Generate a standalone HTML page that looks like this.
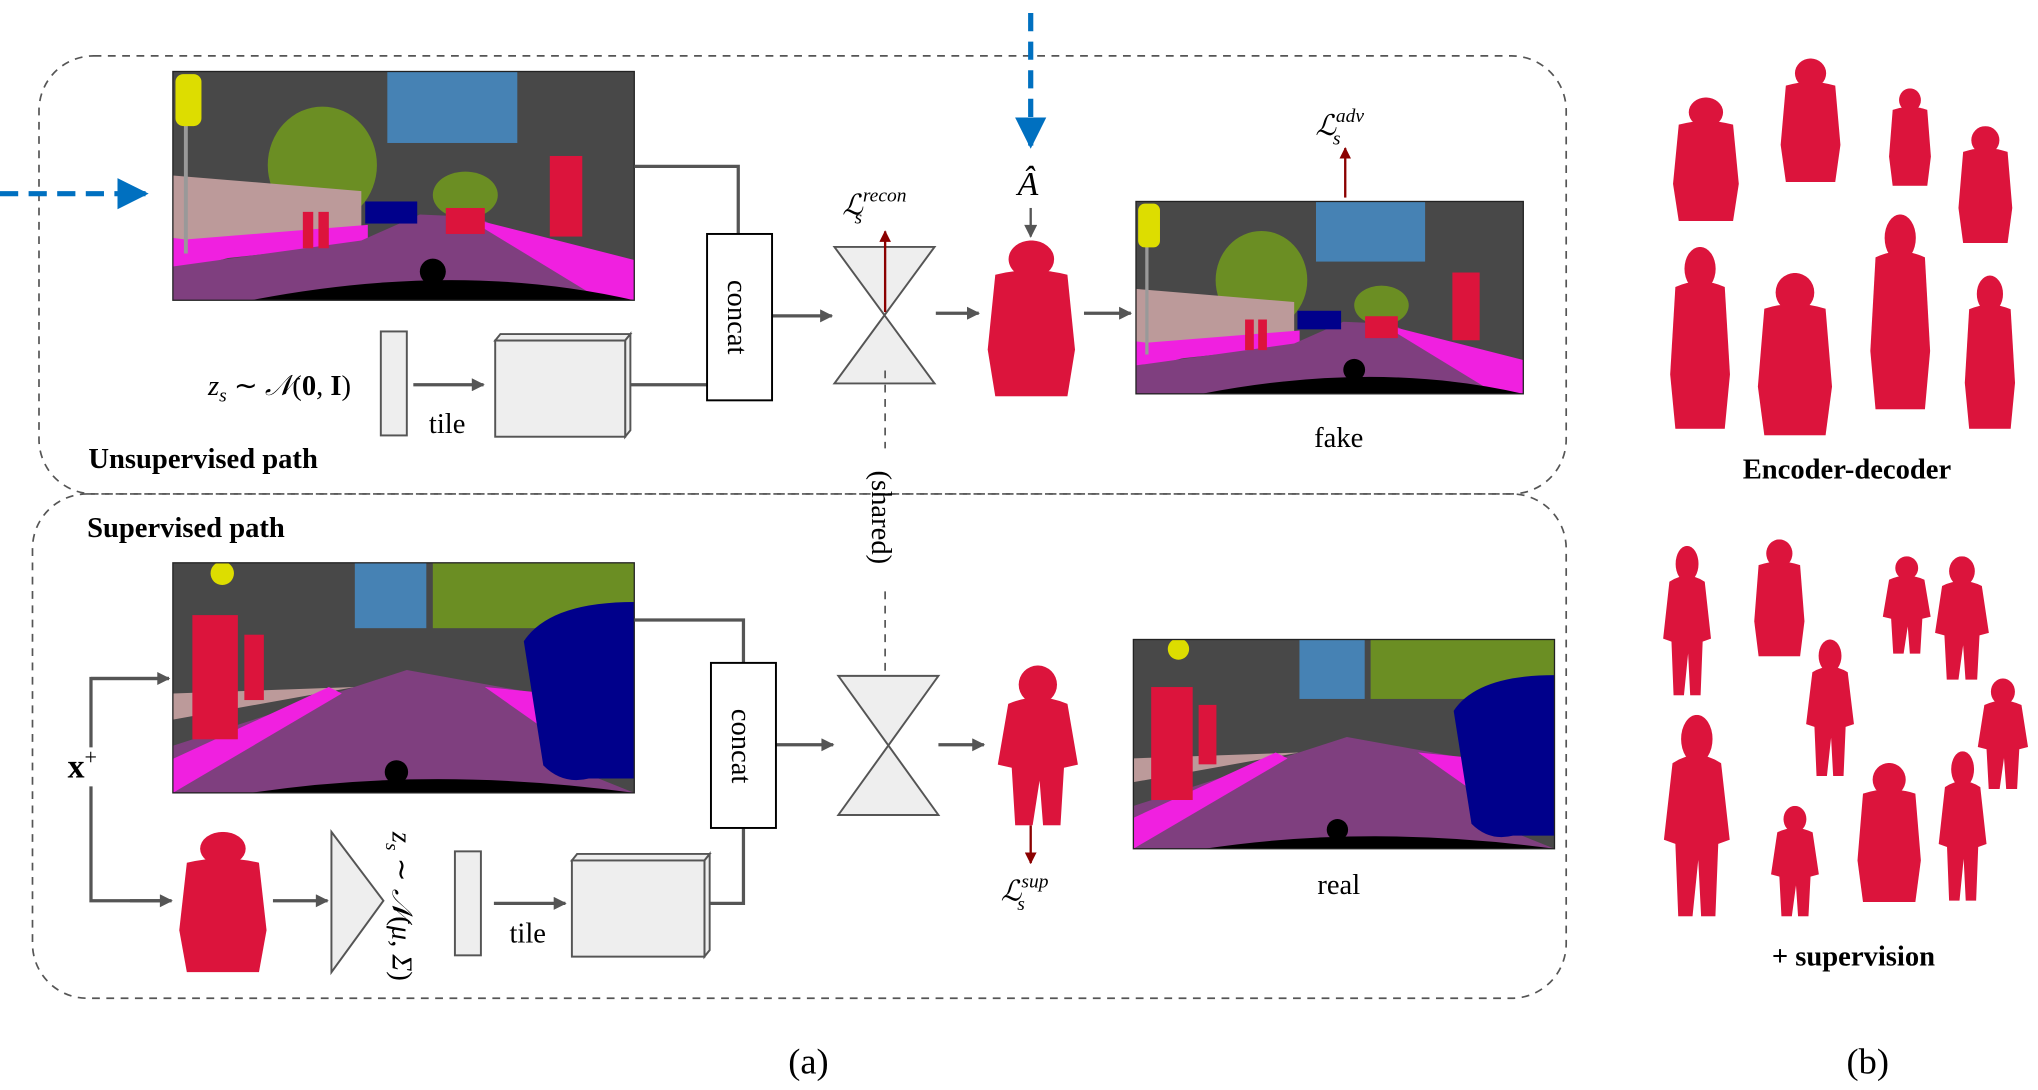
<!DOCTYPE html>
<html><head><meta charset="utf-8"><style>html,body{margin:0;padding:0;background:#fff}svg{display:block}</style></head><body>
<svg width="2038" height="1090" viewBox="0 0 1568 838.6" preserveAspectRatio="none" xmlns="http://www.w3.org/2000/svg" font-family="Liberation Serif, serif">
<defs>
<marker id="ag" markerWidth="8" markerHeight="8" refX="7" refY="4" orient="auto" markerUnits="userSpaceOnUse"><path d="M0,0 L14,4 L0,8 Z" fill="#555" transform="scale(0.6,1)"/></marker>
<marker id="ag2" viewBox="0 0 10 10" markerWidth="12" markerHeight="10" refX="9" refY="5" orient="auto" markerUnits="userSpaceOnUse"><path d="M0,0 L10,5 L0,10 Z" fill="#555"/></marker>
<marker id="ar" viewBox="0 0 10 10" markerWidth="9" markerHeight="9" refX="9" refY="5" orient="auto" markerUnits="userSpaceOnUse"><path d="M0,0 L10,5 L0,10 Z" fill="#8b0000"/></marker>
<marker id="ab" viewBox="0 0 10 10" markerWidth="28" markerHeight="24" refX="9" refY="5" orient="auto" markerUnits="userSpaceOnUse"><path d="M0,0 L10,5 L0,10 Z" fill="#0070c0"/></marker>
<symbol id="s1" viewBox="0 0 355 176" preserveAspectRatio="none">
<rect width="355" height="176" fill="#484848"/>
<rect x="165" y="0" width="100" height="55" fill="#4682b4"/>
<ellipse cx="115" cy="72" rx="42" ry="45" fill="#6b8e23"/>
<ellipse cx="225" cy="95" rx="25" ry="18" fill="#6b8e23"/>
<polygon points="0,80 145,92 145,128 0,135" fill="#bc9a9a"/>
<polygon points="0,130 150,118 150,132 0,148" fill="#f020e0"/>
<path d="M0,128 Q60,135 48,142 L0,155 Z" fill="#f020e0"/>
<polygon points="0,150 145,130 190,110 235,112 350,176 0,176" fill="#7f3f7f"/>
<polygon points="225,112 355,145 355,176 330,176" fill="#f020e0"/>
<rect x="148" y="100" width="40" height="17" fill="#00008b"/>
<rect x="290" y="65" width="25" height="62" fill="#dc143c"/>
<rect x="100" y="108" width="8" height="28" fill="#dc143c"/><rect x="112" y="108" width="8" height="28" fill="#dc143c"/>
<rect x="210" y="105" width="30" height="20" fill="#dc143c"/>
<line x1="10" y1="20" x2="10" y2="140" stroke="#999" stroke-width="3"/>
<rect x="2" y="2" width="20" height="40" rx="6" fill="#dddd00"/>
<path d="M60,176 Q220,145 355,176 Z" fill="#000"/>
<circle cx="200" cy="154" r="10" fill="#000"/>
</symbol>
<symbol id="s2" viewBox="0 0 355 176" preserveAspectRatio="none">
<rect width="355" height="176" fill="#484848"/>
<rect x="140" y="0" width="55" height="50" fill="#4682b4"/>
<rect x="200" y="0" width="155" height="50" fill="#6b8e23"/>
<polygon points="0,100 140,95 0,120" fill="#bc9a9a"/>
<polygon points="0,140 180,82 280,100 290,150 355,176 0,176" fill="#7f3f7f"/>
<polygon points="0,150 120,95 130,100 0,176" fill="#f020e0"/>
<polygon points="240,95 290,100 290,130" fill="#f020e0"/>
<path d="M270,60 Q290,30 355,30 L355,165 L320,165 Q300,170 285,155 Z" fill="#00008b"/>
<rect x="15" y="40" width="35" height="95" fill="#dc143c"/>
<rect x="55" y="55" width="15" height="50" fill="#dc143c"/>
<circle cx="38" cy="8" r="9" fill="#dddd00"/>
<path d="M60,176 Q200,155 355,176 Z" fill="#000"/>
<circle cx="172" cy="160" r="9" fill="#000"/>
</symbol>
<symbol id="p" viewBox="0 0 50 100" preserveAspectRatio="none">
<ellipse cx="25" cy="12" rx="11" ry="12" fill="#dc143c"/>
<path d="M8,24 Q25,16 42,24 L48,62 L40,64 L38,100 L28,100 L26,72 L22,100 L12,100 L10,64 L2,62 Z" fill="#dc143c"/>
</symbol>
<symbol id="q" viewBox="0 0 50 100" preserveAspectRatio="none">
<ellipse cx="25" cy="12" rx="12" ry="12" fill="#dc143c"/>
<path d="M6,22 Q25,16 44,22 L48,70 L44,100 L6,100 L2,70 Z" fill="#dc143c"/>
</symbol>
</defs>
<g fill="none" stroke="#555" stroke-dasharray="6,5" stroke-width="1.3">
<rect x="30" y="43" width="1175" height="337" rx="42"/>
<rect x="25" y="380" width="1180" height="388" rx="42"/>
</g>
<use href="#s1" x="133" y="55" width="355" height="176"/>
<rect x="133" y="55" width="355" height="176" fill="none" stroke="#222"/>
<use href="#s1" x="874" y="155" width="298" height="148"/>
<rect x="874" y="155" width="298" height="148" fill="none" stroke="#222"/>
<use href="#s2" x="133" y="433" width="355" height="177"/>
<rect x="133" y="433" width="355" height="177" fill="none" stroke="#222"/>
<use href="#s2" x="872" y="492" width="324" height="161"/>
<rect x="872" y="492" width="324" height="161" fill="none" stroke="#222"/>
<g stroke="#555" stroke-width="2.5" fill="none">
<polyline points="488,128 568,128 568,180"/>
<polyline points="484,296 544,296"/>
<line x1="318" y1="296" x2="372" y2="296" marker-end="url(#ag2)"/>
<line x1="594" y1="243" x2="640" y2="243" marker-end="url(#ag2)"/>
<line x1="720" y1="241" x2="753" y2="241" marker-end="url(#ag2)"/>
<line x1="834" y1="241" x2="870" y2="241" marker-end="url(#ag2)"/>
<line x1="793" y1="160" x2="793" y2="182" stroke-width="1.8" marker-end="url(#ag2)"/>
<polyline points="130,522 70,522 70,575"/>
<line x1="70" y1="522" x2="130" y2="522" marker-end="url(#ag2)"/>
<polyline points="70,605 70,693 130,693" />
<line x1="100" y1="693" x2="132" y2="693" marker-end="url(#ag2)"/>
<line x1="210" y1="693" x2="252" y2="693" marker-end="url(#ag2)"/>
<line x1="380" y1="695" x2="435" y2="695" marker-end="url(#ag2)"/>
<polyline points="545,695 572,695 572,637"/>
<polyline points="488,477 572,477 572,510"/>
<line x1="597" y1="573" x2="641" y2="573" marker-end="url(#ag2)"/>
<line x1="722" y1="573" x2="757" y2="573" marker-end="url(#ag2)"/>
</g>
<g stroke="#0070c0" stroke-width="4" stroke-dasharray="14,8" fill="none">
<line x1="0" y1="149" x2="112" y2="149" marker-end="url(#ab)"/>
<line x1="793" y1="10" x2="793" y2="112" marker-end="url(#ab)"/>
</g>
<rect x="293" y="255" width="20" height="80" fill="#eee" stroke="#555" stroke-width="1.5"/>
<rect x="350" y="655" width="20" height="80" fill="#eee" stroke="#555" stroke-width="1.5"/>
<g fill="#eee" stroke="#555" stroke-width="1.5">
<polygon points="381,262 385,257 485,257 481,262"/><polygon points="481,262 485,257 485,331 481,336"/><rect x="381" y="262" width="100" height="74"/>
<polygon points="440,662 444,657 546,657 542,662"/><polygon points="542,662 546,657 546,731 542,736"/><rect x="440" y="662" width="102" height="74"/>
<polygon points="642,190 719,190 642,295 719,295"/>
<polygon points="645,520 722,520 645,627 722,627"/>
<polygon points="255,640 295,693 255,748"/>
</g>
<rect x="544" y="180" width="50" height="128" fill="#fff" stroke="#000" stroke-width="1.5"/>
<rect x="547" y="510" width="50" height="127" fill="#fff" stroke="#000" stroke-width="1.5"/>
<text transform="translate(560,244) rotate(90)" font-size="22" text-anchor="middle">concat</text>
<text transform="translate(563,574) rotate(90)" font-size="22" text-anchor="middle">concat</text>
<g stroke="#8b0000" stroke-width="1.8"><line x1="681" y1="240" x2="681" y2="178" marker-end="url(#ar)"/><line x1="1035" y1="152" x2="1035" y2="114" marker-end="url(#ar)"/><line x1="793" y1="635" x2="793" y2="664" marker-end="url(#ar)"/></g>
<g stroke="#555" stroke-width="1.3" stroke-dasharray="6,5"><line x1="681" y1="285" x2="681" y2="345"/><line x1="681" y1="455" x2="681" y2="520"/></g>
<text transform="translate(671,398) rotate(90)" font-size="22" text-anchor="middle">(shared)</text>
<use href="#q" x="757" y="185" width="73" height="120"/>
<use href="#p" x="765" y="512" width="67" height="123"/>
<use href="#q" x="135" y="640" width="73" height="108"/>
<g font-size="22">
<text x="160" y="304" font-style="italic">z<tspan font-size="15" dy="5">s</tspan><tspan dy="-5" font-style="normal"> ∼ </tspan>𝒩<tspan font-style="normal">(<tspan font-weight="bold">0</tspan>, <tspan font-weight="bold">I</tspan>)</tspan></text>
<text x="330" y="333">tile</text>
<text x="392" y="725">tile</text>
<text transform="translate(302,640) rotate(90)" font-style="italic">z<tspan font-size="15" dy="5">s</tspan><tspan dy="-5" font-style="normal"> ∼ </tspan>𝒩<tspan font-style="normal">(</tspan>μ, Σ<tspan font-style="normal">)</tspan></text>
<text x="52" y="598" font-weight="bold" font-size="26">x<tspan font-size="17" dy="-10" font-weight="normal">+</tspan></text>
<text x="648" y="165" font-style="italic">ℒ<tspan font-size="15" dy="-10">recon</tspan><tspan font-size="15" dx="-40" dy="17">s</tspan></text>
<text x="1012" y="104" font-style="italic">ℒ<tspan font-size="15" dy="-10">adv</tspan><tspan font-size="15" dx="-24" dy="17">s</tspan></text>
<text x="770" y="693" font-style="italic">ℒ<tspan font-size="15" dy="-10">sup</tspan><tspan font-size="15" dx="-24" dy="17">s</tspan></text>
<text x="783" y="150" font-style="italic" font-size="26">Â</text>
<text x="1030" y="344" text-anchor="middle">fake</text>
<text x="1030" y="688" text-anchor="middle">real</text>
<text x="68" y="360" font-weight="bold">Unsupervised path</text>
<text x="67" y="413" font-weight="bold">Supervised path</text>
<text x="1421" y="368" font-weight="bold" text-anchor="middle">Encoder-decoder</text>
<text x="1426" y="743" font-weight="bold" text-anchor="middle">+ supervision</text>
<text x="622" y="826" font-size="28" text-anchor="middle">(a)</text>
<text x="1437" y="826" font-size="28" text-anchor="middle">(b)</text>
</g>
<use href="#q" x="1285" y="75" width="55" height="95"/>
<use href="#q" x="1368" y="45" width="50" height="95"/>
<use href="#q" x="1452" y="68" width="35" height="75"/>
<use href="#q" x="1505" y="97" width="45" height="90"/>
<use href="#q" x="1283" y="190" width="50" height="140"/>
<use href="#q" x="1350" y="210" width="62" height="125"/>
<use href="#q" x="1437" y="165" width="50" height="150"/>
<use href="#q" x="1510" y="212" width="42" height="118"/>
<use href="#p" x="1278" y="420" width="40" height="115"/>
<use href="#q" x="1348" y="415" width="42" height="90"/>
<use href="#p" x="1447" y="428" width="40" height="75"/>
<use href="#p" x="1487" y="428" width="45" height="95"/>
<use href="#p" x="1388" y="492" width="40" height="105"/>
<use href="#p" x="1520" y="522" width="42" height="85"/>
<use href="#p" x="1278" y="550" width="55" height="155"/>
<use href="#p" x="1361" y="620" width="40" height="85"/>
<use href="#q" x="1427" y="587" width="53" height="107"/>
<use href="#p" x="1490" y="578" width="40" height="115"/>
</svg>
</body></html>
